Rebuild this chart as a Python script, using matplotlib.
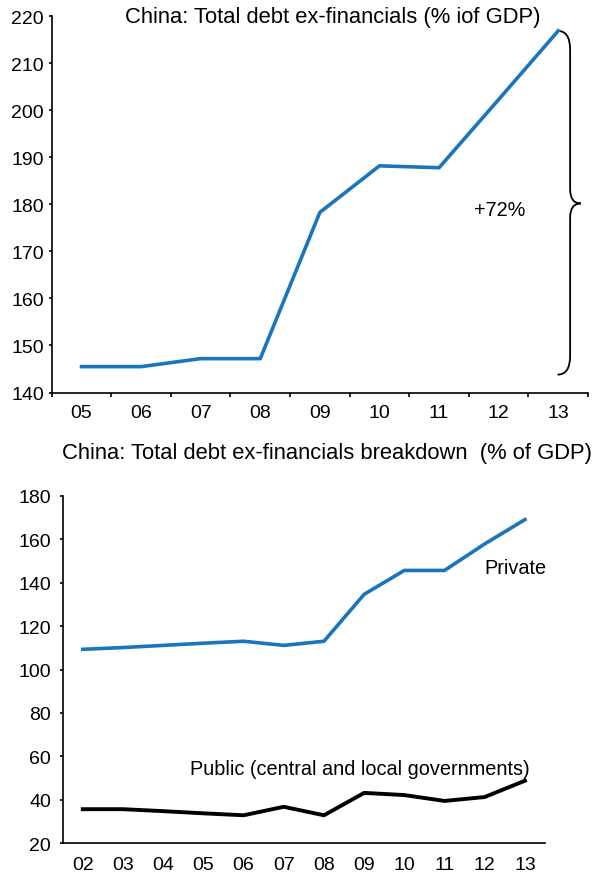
import numpy as np
import matplotlib
matplotlib.use('Agg')
import matplotlib.pyplot as plt
from matplotlib.path import Path
from matplotlib.patches import PathPatch

plt.rcParams['font.family'] = ['Liberation Sans', 'DejaVu Sans']

# top chart: total debt ex-financials (% of GDP)
years_top = ['05', '06', '07', '08', '09', '10', '11', '12', '13']
total_debt = [145.5, 145.5, 147.2, 147.2, 178.3, 188.2, 187.8, 202.3, 216.9]

# bottom chart: breakdown
years_bot = ['02', '03', '04', '05', '06', '07', '08', '09', '10', '11', '12', '13']
private_debt = [109.3, 110.1, 111.1, 112.1, 113.0, 111.1, 113.0, 134.6, 145.6, 145.6, 157.8, 169.0]
public_debt = [35.7, 35.7, 34.8, 33.8, 32.9, 36.8, 32.9, 43.2, 42.2, 39.5, 41.3, 48.8]

blue = '#1a75bc'
tick_fs = 14
lab_fs = 14.3
title_fs = 15.8
W, H = 605, 879

fig = plt.figure(figsize=(6.05, 8.79), dpi=100)

# ---- top chart
ax1 = fig.add_axes([51.7 / W, (H - 393.5) / H, (588 - 51.7) / W, (393.5 - 17.3) / H])
x1 = np.arange(len(years_top))
ax1.plot(x1, total_debt, color=blue, lw=2.6)
ax1.set_xlim(-0.5, len(years_top) - 0.5)
ax1.set_ylim(140, 220)
ax1.set_yticks(range(140, 221, 10))
ax1.set_xticks(x1)
ax1.set_xticklabels(years_top)
ax1.set_xticks(np.arange(-0.5, len(years_top)), minor=True)
ax1.tick_params(axis='x', which='major', length=0, pad=8, labelsize=tick_fs)
ax1.tick_params(axis='x', which='minor', length=3, width=1.2, direction='out')
ax1.tick_params(axis='y', length=2.5, width=1.2, labelsize=tick_fs, pad=3)
for s in ['top', 'right']:
    ax1.spines[s].set_visible(False)
for s in ['left', 'bottom']:
    ax1.spines[s].set_linewidth(1.2)
fig.text(333 / W, 1 - 17 / H, 'China: Total debt ex-financials (% iof GDP)',
         ha='center', va='center', fontsize=title_fs)

# curly brace showing the rise
xe, xb, tip = 7.99, 8.20, 8.38
yt, yb, ym = 216.9, 143.8, 180.2
verts = [(xe, yt), (xb, yt), (xb, yt - 4),
         (xb, ym + 3), (xb, ym), (tip, ym),
         (xb, ym), (xb, ym - 3),
         (xb, yb + 4), (xb, yb), (xe, yb)]
codes = [Path.MOVETO, Path.CURVE3, Path.CURVE3,
         Path.LINETO, Path.CURVE3, Path.CURVE3,
         Path.CURVE3, Path.CURVE3,
         Path.LINETO, Path.CURVE3, Path.CURVE3]
ax1.add_patch(PathPatch(Path(verts, codes), fill=False, lw=1.3, color='black', clip_on=False))
ax1.text(7.02, 178.9, '+72%', ha='center', va='center', fontsize=lab_fs)

# ---- bottom chart
ax2 = fig.add_axes([62.7 / W, (H - 844.3) / H, (545 - 62.7) / W, (844.3 - 496.7) / H])
x2 = np.arange(len(years_bot))
ax2.plot(x2, private_debt, color=blue, lw=2.6)
ax2.plot(x2, public_debt, color='black', lw=2.8)
ax2.set_xlim(-0.5, len(years_bot) - 0.5)
ax2.set_ylim(20, 180)
ax2.set_yticks(range(20, 181, 20))
ax2.set_xticks(x2)
ax2.set_xticklabels(years_bot)
ax2.tick_params(axis='x', length=0, pad=9, labelsize=tick_fs)
ax2.tick_params(axis='y', length=2.5, width=1.2, labelsize=tick_fs, pad=6)
for s in ['top', 'right']:
    ax2.spines[s].set_visible(False)
for s in ['left', 'bottom']:
    ax2.spines[s].set_linewidth(1.2)
ax2.text(10.0, 147, 'Private', ha='left', va='center', fontsize=lab_fs)
ax2.text(2.67, 54.5, 'Public (central and local governments)', ha='left', va='center', fontsize=lab_fs)
fig.text(61.7 / W, 1 - 453.3 / H, 'China: Total debt ex-financials breakdown  (% of GDP)',
         ha='left', va='center', fontsize=title_fs)

fig.savefig('out.png', dpi=100)
